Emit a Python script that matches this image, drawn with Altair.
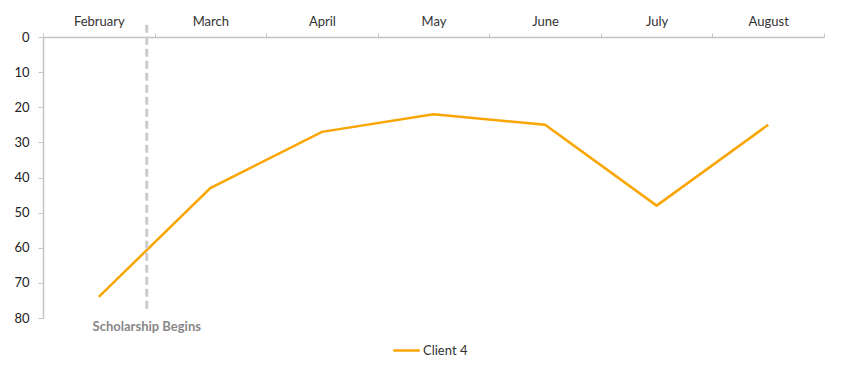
import altair as alt
import pandas as pd

months = ["February", "March", "April", "May", "June", "July", "August"]
client4 = [74, 43, 27, 22, 25, 48, 25]
series_name = "Client 4"

marker_month = ["February"]
marker_top = [-3.5]
marker_bottom = [77.5]
marker_label = ["Scholarship Begins"]
marker_label_y = [82.5]
y_ticks = [0, 10, 20, 30, 40, 50, 60, 70, 80]

FONT = "Lato"
ORANGE = "#F9A602"

df = pd.DataFrame({"month": months, "value": client4, "series": [series_name] * len(months)})
mk = pd.DataFrame({"month": marker_month, "y1": marker_top, "y2": marker_bottom,
                   "label": marker_label, "ly": marker_label_y})

xscale = alt.Scale(domain=months, paddingInner=0, paddingOuter=0)
yscale = alt.Scale(domain=[0, 80], reverse=True, nice=False, zero=False)

xaxis = alt.Axis(orient="top", title=None, tickBand="extent", labelAngle=0,
                 tickSize=4, labelPadding=5, domainColor="#c4c4c4", tickColor="#c4c4c4",
                 domainWidth=1.5, labelColor="#333333", labelFontSize=13, labelFont=FONT)
yaxis = alt.Axis(title=None, values=y_ticks, labelOverlap=False, grid=False, tickSize=5,
                 labelPadding=9, domainColor="#c4c4c4", tickColor="#c4c4c4", domainWidth=1.5,
                 labelColor="#222222", labelFontSize=13, labelFont=FONT)

line = alt.Chart(df).mark_line(strokeWidth=2.5).encode(
    x=alt.X("month:N", scale=xscale, sort=months, axis=xaxis),
    y=alt.Y("value:Q", scale=yscale, axis=yaxis),
    color=alt.Color("series:N", scale=alt.Scale(domain=[series_name], range=[ORANGE]),
                    legend=alt.Legend(title=None, orient="none", legendX=349, legendY=299,
                                      direction="horizontal",
                                      symbolType="stroke", symbolSize=700, symbolStrokeWidth=2.5,
                                      labelFont=FONT, labelFontSize=13, labelColor="#333333",
                                      labelOffset=2)),
)

rule = alt.Chart(mk).mark_rule(color="#cccccc", strokeWidth=3, strokeDash=[8, 4]).encode(
    x=alt.X("month:N", scale=xscale, sort=months, bandPosition=0.93, axis=xaxis),
    y=alt.Y("y1:Q", scale=yscale, axis=yaxis),
    y2="y2:Q",
)

txt = alt.Chart(mk).mark_text(font=FONT, fontSize=13, fontWeight="bold", color="#888888",
                              baseline="middle", align="center").encode(
    x=alt.X("month:N", scale=xscale, sort=months, bandPosition=0.93, axis=xaxis),
    y=alt.Y("ly:Q", scale=yscale, axis=yaxis),
    text="label:N",
)

chart = alt.layer(line, rule, txt).properties(
    width=781, height=281,
    padding={"left": 5, "top": 7, "right": 5, "bottom": 5},
).configure_view(stroke=None)

chart.save("out.html", embed_options={"renderer": "svg", "actions": False})
